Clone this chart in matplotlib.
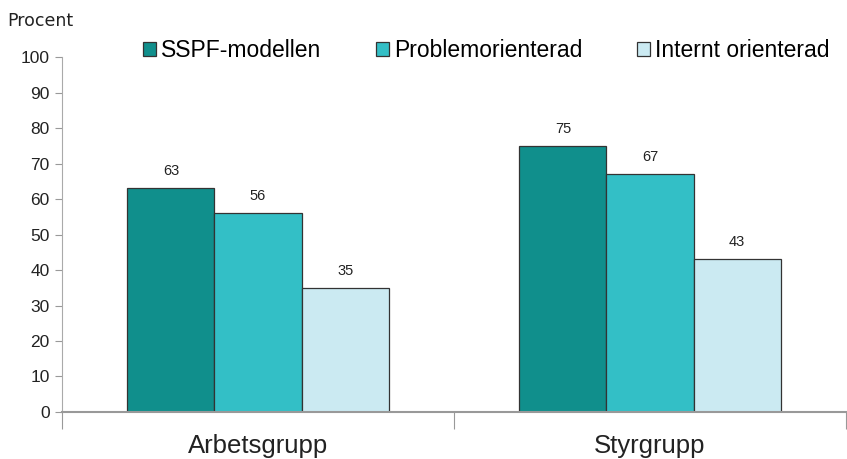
import numpy as np
import matplotlib
matplotlib.use('Agg')
import matplotlib.pyplot as plt
from matplotlib.patches import Patch

categories = ['Arbetsgrupp', 'Styrgrupp']
series     = ['SSPF-modellen', 'Problemorienterad', 'Internt orienterad']
values     = [[63, 75], [56, 67], [35, 43]]
colors     = ['#108F8C', '#33BFC6', '#CBEAF2']
yticks     = list(range(0, 101, 10))

plt.rcParams['font.family'] = ['Liberation Sans', 'DejaVu Sans']

fig = plt.figure(figsize=(8.47, 4.59), dpi=100)
ax = fig.add_axes([0.0732, 0.1024, 0.9256, 0.7734])

x = np.arange(len(categories))
w = 2 / 9
for i, (name, vals) in enumerate(zip(series, values)):
	pos = x + (i - 1) * w
	ax.bar(pos, vals, width=w, color=colors[i], edgecolor='#333333', linewidth=0.9, label=name, zorder=2)
	for p, v in zip(pos, vals):
		ax.text(p, v + 2.8, str(v), ha='center', va='bottom', fontsize=10.5, color='#222222')

ax.set_xlim(-0.5, len(categories) - 0.5)
ax.set_ylim(0, 100)
ax.set_yticks(yticks)
ax.set_yticklabels([str(t) for t in yticks], fontsize=12.5, color='#222222')

# category labels between minor ticks at group boundaries
ax.set_xticks(x)
ax.set_xticklabels(categories, fontsize=18.5, color='#222222')
ax.tick_params(axis='x', length=0, pad=15.5)
ax.set_xticks(np.arange(len(categories) + 1) - 0.5, minor=True)
ax.tick_params(axis='x', which='minor', length=12, color='#999999', width=0.8)
ax.tick_params(axis='y', length=5, color='#999999', width=0.8, pad=4)

for s in ['top', 'right']:
	ax.spines[s].set_visible(False)
ax.spines['left'].set_color('#aaaaaa')
ax.spines['bottom'].set_color('#999999')
ax.spines['bottom'].set_linewidth(1.5)

fig.text(0.009, 0.954, 'Procent', fontsize=12.5, family='DejaVu Sans', color='#222222', va='center')

handles = [Patch(facecolor=c, edgecolor='#333333', linewidth=0.9) for c in colors]
fig.legend(handles, series, loc='center left', bbox_to_anchor=(0.169, 0.89), ncol=3,
	frameon=False, fontsize=16.5, handlelength=0.55, handleheight=0.55, handletextpad=0.22,
	columnspacing=2.4, borderaxespad=0, borderpad=0)

plt.savefig('out.png', dpi=100)
